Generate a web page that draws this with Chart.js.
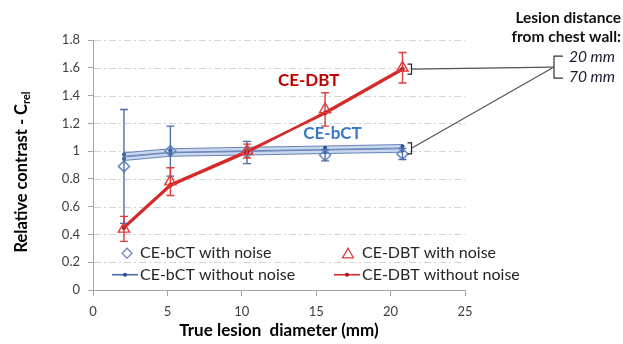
<!DOCTYPE html>
<html><head><meta charset="utf-8">
<script src="https://cdn.jsdelivr.net/npm/chart.js@4"></script>
<style>html,body{margin:0;padding:0;background:#fff;}#wrap{width:623px;height:344px;position:relative;}</style>
</head><body><div id="wrap"><canvas id="c" width="623" height="344"></canvas></div>
<script>
// ---- data ----
const diameters = [2.08, 5.2, 10.35, 15.6, 20.8];
const bctNoNoise20 = [0.975, 1.005, 1.015, 1.025, 1.035];
const bctNoNoise70 = [0.945, 0.975, 0.985, 0.995, 1.005];
const bctNoise = [0.89, 1.0, 0.99, 0.97, 0.98];
const bctNoiseErr = [0.41, 0.18, 0.08, 0.04, 0.04];
const dbtNoNoise20 = [0.455, 0.76, 1.0, 1.27, 1.585];
const dbtNoNoise70 = [0.445, 0.75, 0.99, 1.28, 1.595];
const dbtNoise = [0.44, 0.78, 1.0, 1.30, 1.60];
const dbtNoiseErr = [0.09, 0.10, 0.05, 0.12, 0.11];
const xTickValues = [0, 5, 10, 15, 20, 25];
const yTickLabels = ['0','0.2','0.4','0.6','0.8','1','1.2','1.4','1.6','1.8'];
const legendLabels = ['CE-bCT with noise','CE-DBT with noise','CE-bCT without noise','CE-DBT without noise'];
const distanceLabels = ['20 mm','70 mm'];

const FONT = 'Lato, "Open Sans", sans-serif';
const pts = ys => diameters.map((x, i) => ({x: x, y: ys[i]}));

const BLUE_DARK = '#6784bb', BLUE_LIGHT = '#cad7ec', BLUE_DOT = '#2f4f8f';
const RED = '#d42a2a', RED_DOT = '#a81414';

const errorBars = {
  id: 'errorBars',
  afterDatasetsDraw(chart) {
    const ctx = chart.ctx, ys = chart.scales.y;
    chart.data.datasets.forEach((ds, di) => {
      if (!ds.err) return;
      const meta = chart.getDatasetMeta(di);
      ctx.save();
      ctx.strokeStyle = ds.errColor; ctx.lineWidth = 1.4;
      meta.data.forEach((p, i) => {
        const v = ds.data[i].y, e = ds.err[i];
        const yT = ys.getPixelForValue(v + e), yB = ys.getPixelForValue(v - e);
        ctx.beginPath();
        ctx.moveTo(p.x, yT); ctx.lineTo(p.x, yB);
        ctx.moveTo(p.x - 4, yT); ctx.lineTo(p.x + 4, yT);
        ctx.moveTo(p.x - 4, yB); ctx.lineTo(p.x + 4, yB);
        ctx.stroke();
      });
      ctx.restore();
    });
  }
};

const gridPlugin = {
  id: 'gridPlugin',
  beforeDatasetsDraw(chart) {
    const ctx = chart.ctx, a = chart.chartArea, ys = chart.scales.y;
    ctx.save();
    ctx.strokeStyle = '#d4d4d4'; ctx.lineWidth = 1;
    ctx.setLineDash([7, 3, 2, 3]);
    ys.ticks.forEach(t => {
      if (t.value <= 0) return;
      const y = Math.round(ys.getPixelForValue(t.value)) + 0.5;
      ctx.beginPath(); ctx.moveTo(a.left + 1, y); ctx.lineTo(a.right, y); ctx.stroke();
    });
    ctx.restore();
  }
};

function diamond(ctx, x, y, r) {
  ctx.beginPath(); ctx.moveTo(x, y - r); ctx.lineTo(x + r, y); ctx.lineTo(x, y + r); ctx.lineTo(x - r, y); ctx.closePath(); ctx.stroke();
}
function triangle(ctx, x, y, r) {
  ctx.beginPath(); ctx.moveTo(x, y - r); ctx.lineTo(x + r * 0.9, y + r * 0.6); ctx.lineTo(x - r * 0.9, y + r * 0.6); ctx.closePath(); ctx.stroke();
}

const decor = {
  id: 'decor',
  afterDraw(chart) {
    const ctx = chart.ctx, a = chart.chartArea, xs = chart.scales.x, ys = chart.scales.y;
    ctx.save();
    // axis titles
    ctx.fillStyle = '#000';
    ctx.textBaseline = 'middle';
    ctx.font = 'bold 17px ' + FONT;
    ctx.textAlign = 'center';
    ctx.fillText('True lesion  diameter (mm)', 279, 331);
    ctx.save();
    ctx.translate(22, 172); ctx.rotate(-Math.PI / 2);
    ctx.textAlign = 'left';
    const main = 'Relative contrast - C', sub = 'rel';
    ctx.font = 'bold 16.5px ' + FONT; const w1 = ctx.measureText(main).width;
    ctx.font = 'bold 11px ' + FONT; const w2 = ctx.measureText(sub).width;
    const st = -(w1 + w2) / 2;
    ctx.font = 'bold 16.5px ' + FONT; ctx.fillText(main, st, 0);
    ctx.font = 'bold 11px ' + FONT; ctx.fillText(sub, st + w1, 4);
    ctx.restore();

    // series labels
    ctx.textAlign = 'center';
    ctx.font = 'bold 17px ' + FONT;
    ctx.fillStyle = '#c00000';
    ctx.fillText('CE-DBT', xs.getPixelForValue(14.5), ys.getPixelForValue(1.505));
    ctx.fillStyle = '#3a78c8';
    ctx.fillText('CE-bCT', xs.getPixelForValue(16.1), ys.getPixelForValue(1.13));

    // in-plot legend
    ctx.font = '16px ' + FONT; ctx.fillStyle = '#262626'; ctx.textAlign = 'left';
    const r1 = ys.getPixelForValue(0.265), r2 = ys.getPixelForValue(0.11);
    const c1 = 140, c2 = 362;
    ctx.lineWidth = 1.3;
    ctx.strokeStyle = '#6a8cc4'; diamond(ctx, c1 - 13, r1, 5);
    ctx.fillText(legendLabels[0], c1, r1);
    ctx.strokeStyle = '#e03a3a'; triangle(ctx, c2 - 14, r1 + 1, 6);
    ctx.fillText(legendLabels[1], c2, r1);
    ctx.strokeStyle = '#4a6aa8'; ctx.lineWidth = 1.6;
    ctx.beginPath(); ctx.moveTo(c1 - 28, r2); ctx.lineTo(c1 - 2, r2); ctx.stroke();
    ctx.fillStyle = BLUE_DOT; ctx.beginPath(); ctx.arc(c1 - 15, r2, 2, 0, Math.PI * 2); ctx.fill();
    ctx.strokeStyle = RED;
    ctx.beginPath(); ctx.moveTo(c2 - 28, r2); ctx.lineTo(c2 - 2, r2); ctx.stroke();
    ctx.fillStyle = RED_DOT; ctx.beginPath(); ctx.arc(c2 - 15, r2, 2, 0, Math.PI * 2); ctx.fill();
    ctx.fillStyle = '#262626';
    ctx.fillText(legendLabels[2], c1, r2);
    ctx.fillText(legendLabels[3], c2, r2);

    // distance brackets
    const last = diameters.length - 1;
    const bx = xs.getPixelForValue(diameters[last]) + 9;
    const dbtY = ys.getPixelForValue((dbtNoNoise20[last] + dbtNoNoise70[last]) / 2);
    const bctY = ys.getPixelForValue((bctNoNoise20[last] + bctNoNoise70[last]) / 2);
    const kx = a.right + 89, ky = ys.getPixelForValue(1.605);
    ctx.strokeStyle = '#222'; ctx.lineWidth = 1.2;
    [[dbtY, 5], [bctY, 5.5]].forEach(([yy, h]) => {
      ctx.beginPath();
      ctx.moveTo(bx - 4, yy - h); ctx.lineTo(bx, yy - h); ctx.lineTo(bx, yy + h); ctx.lineTo(bx - 4, yy + h);
      ctx.stroke();
    });
    ctx.strokeStyle = '#555';
    ctx.beginPath(); ctx.moveTo(bx, dbtY); ctx.lineTo(kx, ky); ctx.moveTo(bx, bctY); ctx.lineTo(kx, ky); ctx.stroke();
    ctx.strokeStyle = '#333';
    ctx.beginPath();
    ctx.moveTo(kx + 9, ky - 11); ctx.lineTo(kx, ky - 11); ctx.lineTo(kx, ky + 11); ctx.lineTo(kx + 9, ky + 11);
    ctx.stroke();
    ctx.font = 'italic 15.5px ' + FONT; ctx.fillStyle = '#1a1a2e'; ctx.textAlign = 'left';
    ctx.fillText(distanceLabels[0], kx + 15, ky - 10);
    ctx.fillText(distanceLabels[1], kx + 15, ky + 10);
    ctx.font = 'bold 15.5px ' + FONT; ctx.fillStyle = '#111'; ctx.textAlign = 'right';
    ctx.fillText('Lesion distance', 621, 18);
    ctx.fillText('from chest wall:', 621, 37);
    ctx.restore();
  }
};

new Chart(document.getElementById('c'), {
  type: 'scatter',
  data: {
    datasets: [
      {data: pts(bctNoNoise20), showLine: true, borderColor: BLUE_DARK, borderWidth: 4.5, pointRadius: 0, order: 10},
      {data: pts(bctNoNoise70), showLine: true, borderColor: BLUE_DARK, borderWidth: 4.5, pointRadius: 0, order: 10},
      {data: pts(bctNoNoise20), showLine: true, borderColor: BLUE_LIGHT, borderWidth: 2.5, pointRadius: 0, order: 9},
      {data: pts(bctNoNoise70), showLine: true, borderColor: BLUE_LIGHT, borderWidth: 2.5, pointRadius: 0, order: 9},
      {data: pts(bctNoNoise20), showLine: false, pointRadius: 2, pointBackgroundColor: BLUE_DOT, pointBorderWidth: 0, order: 8},
      {data: pts(bctNoNoise70), showLine: false, pointRadius: 2, pointBackgroundColor: BLUE_DOT, pointBorderWidth: 0, order: 8},
      {data: pts(dbtNoNoise20), showLine: true, borderColor: RED, borderWidth: 2.2, pointRadius: 2, pointBackgroundColor: RED_DOT, pointBorderWidth: 0, order: 5},
      {data: pts(dbtNoNoise70), showLine: true, borderColor: RED, borderWidth: 2.2, pointRadius: 2, pointBackgroundColor: RED_DOT, pointBorderWidth: 0, order: 5},
      {data: pts(bctNoise), showLine: false, pointStyle: 'rectRot', pointRadius: 5.5, pointBorderColor: '#6a8cc4', pointBackgroundColor: 'rgba(255,255,255,0)', pointBorderWidth: 1.5, err: bctNoiseErr, errColor: '#4b6ea8', order: 3},
      {data: pts(dbtNoise), showLine: false, pointStyle: 'triangle', pointRadius: 6.5, pointBorderColor: '#e03a3a', pointBackgroundColor: 'rgba(255,255,255,0)', pointBorderWidth: 1.4, err: dbtNoiseErr, errColor: '#e03a3a', order: 2}
    ]
  },
  options: {
    responsive: false, animation: false, devicePixelRatio: 1,
    events: [],
    layout: {padding: {left: 0, top: 40, right: 158, bottom: 0}},
    plugins: {legend: {display: false}, tooltip: {enabled: false}},
    scales: {
      x: {
        type: 'linear', min: 0, max: 25,
        afterBuildTicks: s => { s.ticks = xTickValues.map(v => ({value: v})); },
        afterFit: s => { s.height = 54; },
        grid: {drawOnChartArea: false, tickLength: 6, tickColor: '#a6a6a6', tickWidth: 1},
        border: {color: '#a6a6a6', width: 1},
        ticks: {color: '#404040', font: {family: FONT, size: 13}, padding: 8, autoSkip: false, maxRotation: 0}
      },
      y: {
        type: 'linear', min: 0, max: 1.8,
        afterBuildTicks: s => { s.ticks = yTickLabels.map(l => ({value: parseFloat(l)})); },
        afterFit: s => { s.width = 93; },
        grid: {drawOnChartArea: false, tickLength: 5, tickColor: '#a6a6a6', tickWidth: 1},
        border: {color: '#a6a6a6', width: 1},
        ticks: {color: '#404040', font: {family: FONT, size: 13}, padding: 8,
          callback: (v, i) => yTickLabels[i]}
      }
    }
  },
  plugins: [gridPlugin, errorBars, decor]
});
</script></body></html>
